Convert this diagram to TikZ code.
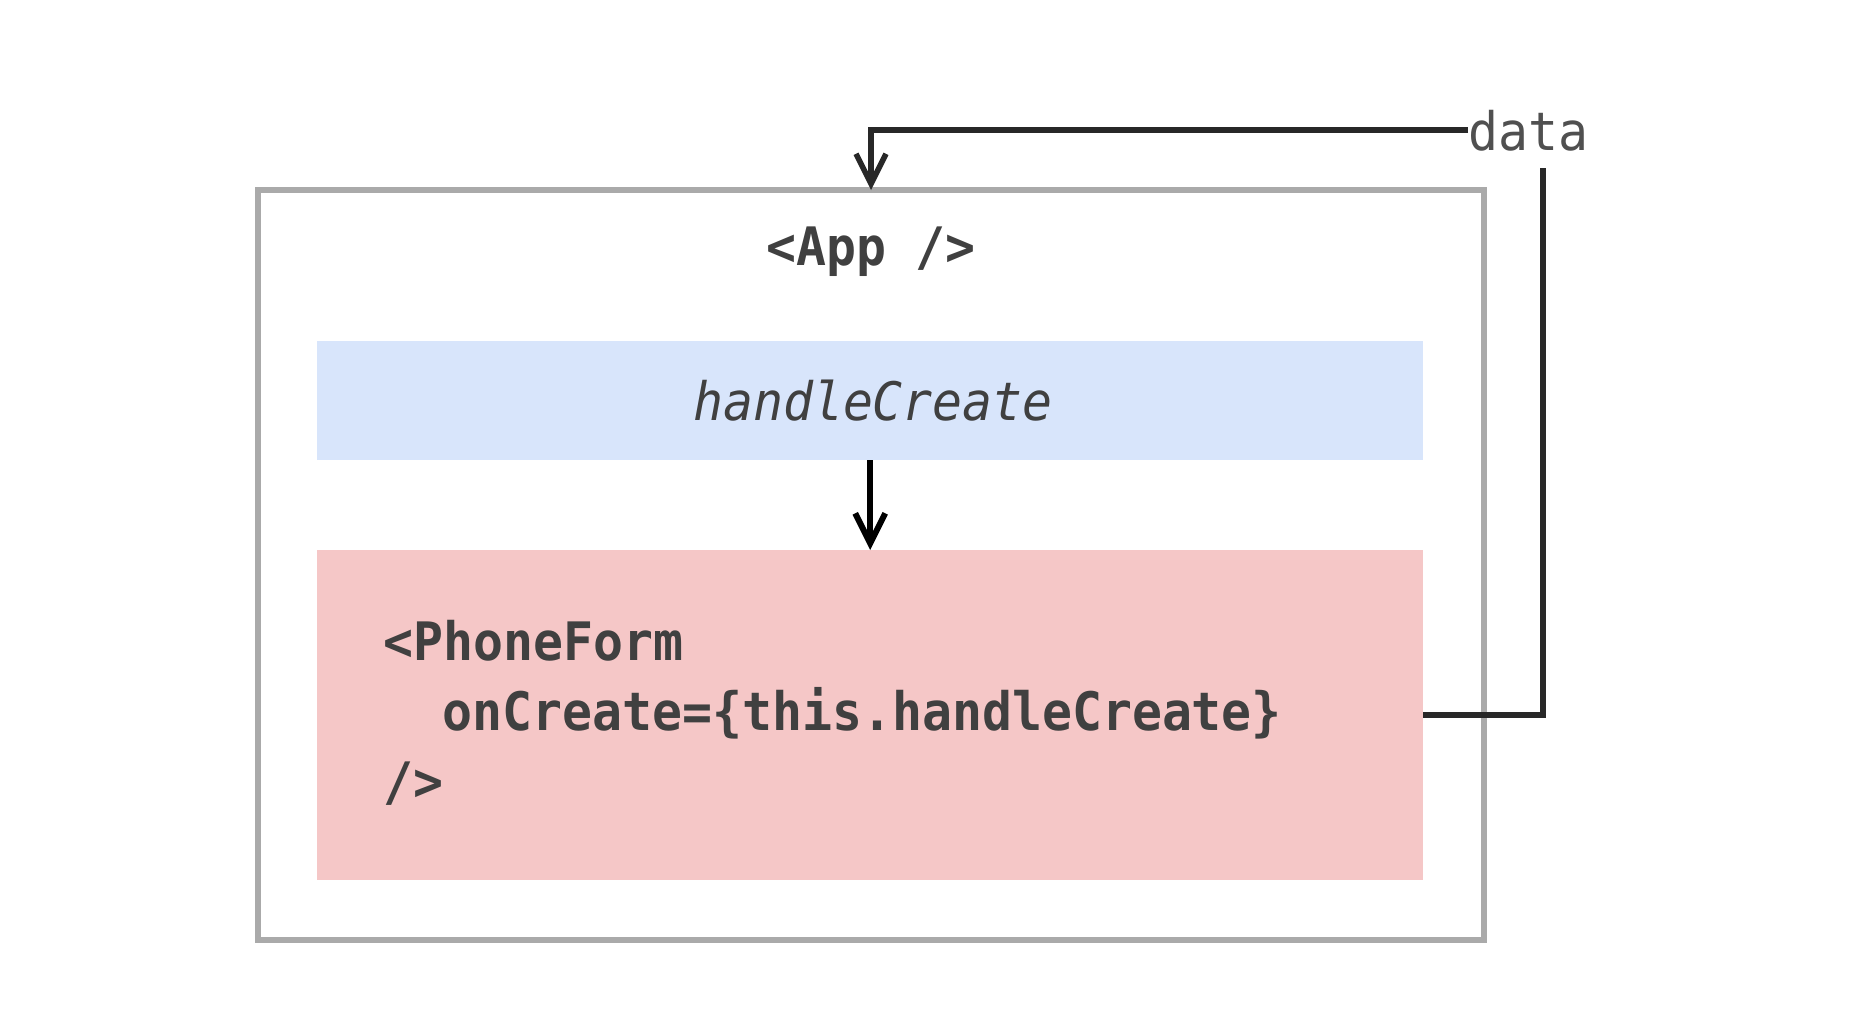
\documentclass[tikz,border=0pt]{standalone}
\usepackage{fontspec}
\usetikzlibrary{arrows.meta}
\newfontfamily\codefont[FakeStretch=0.94]{DejaVu Sans Mono}
\definecolor{boxgray}{RGB}{170,170,170}
\definecolor{bluefill}{RGB}{216,229,251}
\definecolor{redfill}{RGB}{245,199,199}
\definecolor{txtgray}{RGB}{64,64,64}
\definecolor{datagray}{RGB}{80,80,80}
\definecolor{linedark}{RGB}{40,40,40}
\tikzset{
  codetext/.style={inner sep=0pt, text=txtgray, font=\codefont\bfseries\fontsize{53}{60}\selectfont},
  slanttext/.style={inner sep=0pt, text=txtgray, font=\codefont\itshape\fontsize{53}{60}\selectfont},
  labeltext/.style={inner sep=0pt, text=datagray, font=\codefont\fontsize{53}{60}\selectfont},
  conn/.style={line width=5.5pt, draw=linedark},
  headed/.style={-{Straight Barb[length=30pt,width=30pt]}},
}
\begin{document}
\begin{tikzpicture}[x=1pt,y=-1pt]
\useasboundingbox (0,0) rectangle (1854,1012);
\fill[white] (0,0) rectangle (1854,1012);
% outer App box
\draw[boxgray, line width=5.5pt] (258,190) rectangle (1484,940);
\coordinate (outertop) at (871,190);
% blue box
\node[fill=bluefill, inner sep=0pt, minimum width=1106pt, minimum height=119pt, anchor=north west] (blue) at (317,341) {};
% red box
\node[fill=redfill, inner sep=0pt, minimum width=1106pt, minimum height=330pt, anchor=north west] (red) at (317,550) {};
% texts
\node[codetext, anchor=base] (app) at (871,265) {<App />};
\node[slanttext, anchor=base] (hc) at (873,420) {handleCreate};
\node[codetext, anchor=base west] (pf1) at (383,660) {<PhoneForm};
\node[codetext, anchor=base west] (pf2) at (442,730) {onCreate=\{this.handleCreate\}};
\node[codetext, anchor=base west] (pf3) at (383,800) {/>};
\node[labeltext, anchor=base west] (data) at (1468,150) {data};
\coordinate (dtail) at (1543,168);
% connectors
\draw[conn, headed, line width=6pt, draw=black] (blue.south) -- (red.north);
\draw[conn, headed] (data.west) -| (outertop);
\draw[conn, line join=miter] (red.east) -| (dtail);
\end{tikzpicture}
\end{document}
